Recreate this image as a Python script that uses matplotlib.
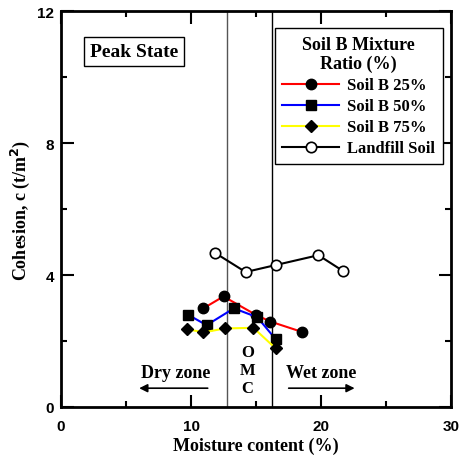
import matplotlib
matplotlib.use("Agg")
import matplotlib.pyplot as plt
from matplotlib.ticker import MultipleLocator

# Data
x_25 = [10.95, 12.5, 15.0, 16.1, 18.5]
y_25 = [2.99, 3.35, 2.79, 2.59, 2.28]
x_50 = [9.8, 11.2, 13.3, 15.1, 16.5]
y_50 = [2.79, 2.48, 2.99, 2.72, 2.06]
x_75 = [9.7, 10.95, 12.6, 14.8, 16.5]
y_75 = [2.36, 2.26, 2.38, 2.40, 1.78]
x_lf = [11.85, 14.2, 16.5, 19.8, 21.7]
y_lf = [4.67, 4.09, 4.30, 4.60, 4.12]
omc_lines = [12.75, 16.2]

serif = ["Liberation Serif", "DejaVu Serif"]
sans = ["Liberation Sans", "DejaVu Sans"]

fig = plt.figure(figsize=(4.61, 4.60), dpi=100)
ax = fig.add_axes([61/461, 1-408/460, 390/461, 396/460])

ms = 7.5
ax.plot(x_25, y_25, color="red", lw=1.5, marker="o", ms=ms, mfc="black", mec="black", label="Soil B 25%", zorder=3)
ax.plot(x_50, y_50, color="blue", lw=1.5, marker="s", ms=ms, mfc="black", mec="black", label="Soil B 50%", zorder=3)
ax.plot(x_75, y_75, color="yellow", lw=1.5, marker="D", ms=6, mfc="black", mec="black", label="Soil B 75%", zorder=3)
ax.plot(x_lf, y_lf, color="black", lw=1.5, marker="o", ms=7.5, mfc="white", mec="black", mew=1.2, label="Landfill Soil", zorder=3)

ax.axvline(omc_lines[0], color="#555555", lw=1.0, zorder=1)
ax.axvline(omc_lines[1], color="black", lw=1.0, zorder=1)

ax.set_xlim(0, 30)
ax.set_ylim(0, 12)
ax.xaxis.set_major_locator(MultipleLocator(10))
ax.xaxis.set_minor_locator(MultipleLocator(5))
ax.yaxis.set_major_locator(MultipleLocator(4))
ax.yaxis.set_minor_locator(MultipleLocator(2))
ax.tick_params(which="both", direction="in", top=True, right=True, width=1.5)
ax.tick_params(which="major", length=9)
ax.tick_params(which="minor", length=4.5)
for s in ax.spines.values():
    s.set_linewidth(2)
for lab in ax.get_xticklabels() + ax.get_yticklabels():
    lab.set_fontfamily(sans)
    lab.set_fontweight("bold")
    lab.set_fontsize(11)
ax.tick_params(axis="x", pad=9)
ax.tick_params(axis="y", pad=5)

ax.set_xlabel("Moisture content (%)", fontfamily=serif, fontweight="bold", fontsize=13, labelpad=2)
ax.set_ylabel("Cohesion, c (t/m$^\\mathbf{2}$)", fontfamily=serif, fontweight="bold", fontsize=13, labelpad=4)

ax.text(0.075, 0.898, "Peak State", transform=ax.transAxes, fontfamily=serif, fontweight="bold",
        fontsize=14, va="center", ha="left",
        bbox=dict(boxstyle="square,pad=0.3", fc="white", ec="black", lw=1))

# zone annotations
ax.text(11.5, 1.05, "Dry zone", ha="right", va="center", fontfamily=serif, fontweight="bold", fontsize=13)
ax.annotate("", xy=(5.8, 0.57), xytext=(11.5, 0.57),
            arrowprops=dict(arrowstyle="-|>", color="black", lw=1.2, mutation_scale=12))
ax.text(17.3, 1.05, "Wet zone", ha="left", va="center", fontfamily=serif, fontweight="bold", fontsize=13)
ax.annotate("", xy=(22.8, 0.57), xytext=(17.3, 0.57),
            arrowprops=dict(arrowstyle="-|>", color="black", lw=1.2, mutation_scale=12))
ax.text(14.35, 1.12, "O\nM\nC", ha="center", va="center", fontfamily=serif, fontweight="bold",
        fontsize=12, linespacing=1.2)

leg = ax.legend(loc="upper right", bbox_to_anchor=(0.979, 0.957), borderaxespad=0,
                title="Soil B Mixture\nRatio (%)",
                prop=dict(family=serif, weight="bold", size=12), handlelength=3.4,
                frameon=True, fancybox=False, edgecolor="black", framealpha=1,
                borderpad=0.45, labelspacing=0.3, handletextpad=0.5)
leg.get_frame().set_linewidth(1)
t = leg.get_title()
t.set_fontfamily(serif)
t.set_fontweight("bold")
t.set_fontsize(13)
t.set_multialignment("center")

fig.savefig("out.png", dpi=100)
